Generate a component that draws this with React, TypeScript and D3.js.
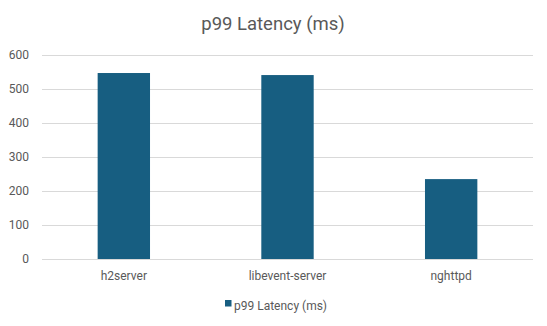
import React from "react";
import * as d3 from "d3";

const categories = ["h2server", "libevent-server", "nghttpd"];
const values = [547, 541, 235];
const yTicks = [0, 100, 200, 300, 400, 500, 600];
const title = "p99 Latency (ms)";
const seriesName = "p99 Latency (ms)";

export default function App() {
  const W = 547, H = 326;
  const left = 42, right = 533, top = 55, bottom = 259;
  const x = d3.scaleBand<string>().domain(categories).range([left, right]).paddingInner(0.68).paddingOuter(0.34);
  const y = d3.scaleLinear().domain([0, 600]).range([bottom, top]);
  const font = "Roboto, 'Liberation Sans', sans-serif";
  const txt = "#595959";
  const color = "#175E81";
  return (
    <svg width={W} height={H} style={{ position: "absolute", left: 0, top: 0, background: "#fff" }} fontFamily={font}>
      <text x={273} y={30} textAnchor="middle" fontSize={18.5} fill={txt}>{title}</text>
      {yTicks.map((t) => (
        <g key={t}>
          <line x1={left} x2={right} y1={Math.round(y(t)) + 0.5} y2={Math.round(y(t)) + 0.5} stroke="#d9d9d9" strokeWidth={1} />
          <text x={29} y={y(t) + 4} textAnchor="end" fontSize={12} fill={txt}>{t}</text>
        </g>
      ))}
      {categories.map((c, i) => (
        <g key={c}>
          <rect x={x(c)} y={y(values[i])} width={x.bandwidth()} height={bottom - y(values[i])} fill={color} />
          <text x={(x(c) as number) + x.bandwidth() / 2} y={280} textAnchor="middle" fontSize={12} fill={txt}>{c}</text>
        </g>
      ))}
      <rect x={225} y={300} width={6.5} height={6.5} fill={color} />
      <text x={234} y={309.5} fontSize={12} fill={txt}>{seriesName}</text>
    </svg>
  );
}
